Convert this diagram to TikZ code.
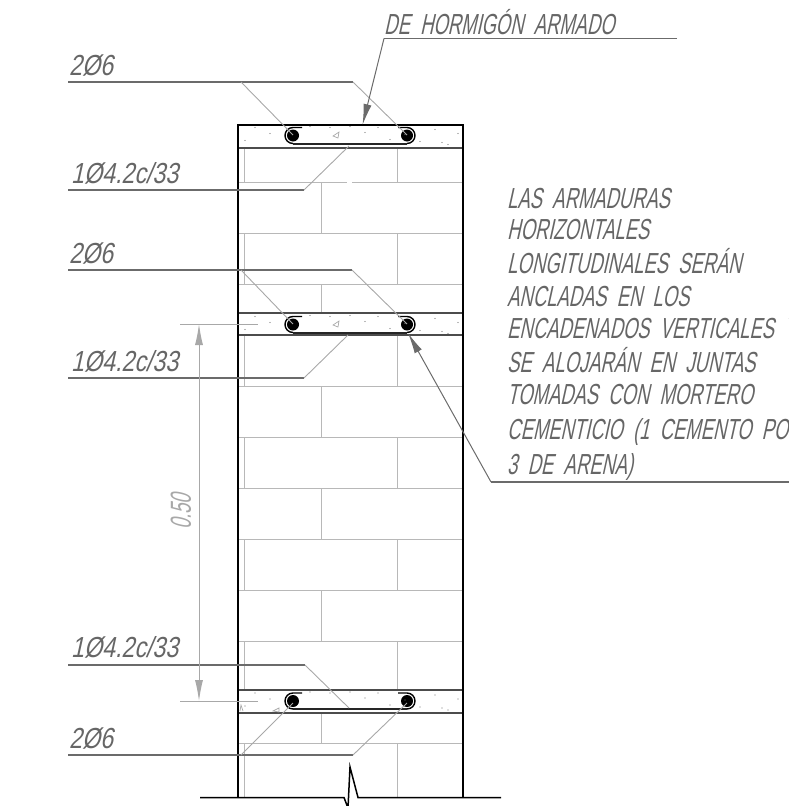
\documentclass[tikz,border=0pt]{standalone}
\usepackage{fontspec}
\usetikzlibrary{arrows.meta}
\newfontfamily\cad[FakeStretch=0.635,FakeSlant=0.22]{Liberation Sans}
\newfontfamily\cadtag[FakeStretch=0.8,FakeSlant=0.22]{Liberation Sans}
\definecolor{brick}{gray}{0.72}
\definecolor{lead}{gray}{0.42}
\definecolor{leadlight}{gray}{0.66}
\definecolor{txt}{gray}{0.40}
\tikzset{
  wall/.style={black,line width=1.5pt},
  brickline/.style={brick,line width=1pt},
  beamline/.style={black!70,line width=1.3pt},
  leader/.style={lead,line width=1.1pt},
  leaderthin/.style={leadlight,line width=.9pt},
  arrowed/.style={lead,line width=1pt,-{Latex[length=21pt,width=8pt]}},
  caption/.style={font=\cad\fontsize{29}{29}\selectfont,text=txt,anchor=base west,inner sep=0pt},
  smalltag/.style={font=\cadtag\fontsize{29}{29}\selectfont,text=txt,anchor=base west,inner sep=0pt},
  barpoint/.style={fill=black,draw=none},
  stir/.style={black,line width=1.4pt},
  stirbase/.style={black!85,line width=2pt},
  speck/.style={fill=black!55,draw=none},
  pics/bars/.style={code={
    \fill[barpoint] (-57,0) circle (6);
    \fill[barpoint] (57,0) circle (6);
    \draw[stir] (-48,-8) -- (-57,-8) arc[start angle=270,end angle=90,radius=8];
    \draw[stir] (57,8) arc[start angle=90,end angle=-90,radius=8] -- (48,-8);
    \draw[stirbase] (-57,8) -- (57,8);
    \foreach \a/\b in {-95/-8,-105/5,-80/-2,-20/-8,15/-3,28/-8,40/4,55/-1,70/6,85/-6,92/7,98/9,108/-2,-40/-9,0/-9} \fill[speck] (\a,\b) circle (.6);
  }},
  triangle mark/.style={leadlight,line width=.7pt}
}
\begin{document}
\begin{tikzpicture}[x=1pt,y=-1pt]
\useasboundingbox (0,0) rectangle (789,806);
\clip (0,0) rectangle (789,806);
% bricks
\foreach \x/\a/\b in {244/148/182,397/148/182,321/182/233,244/233/284,397/233/284,321/284/313,
  244/335/386,397/335/386,321/386/437,244/437/488,397/437/488,321/488/539,244/539/590,397/539/590,
  321/590/641,244/641/690,397/641/690,321/713/743,244/743/797,397/743/797}
  \draw[brickline] (\x,\a) -- (\x,\b);
\foreach \y in {182,233,284,386,437,488,539,590,641,743}
  \draw[brickline] (238,\y) -- (463,\y);
\fill[white] (347,180) rectangle (352,184);
% bond beams
\draw[beamline] (238,148) -- (463,148);
\draw[beamline] (238,313) -- (463,313) (238,335) -- (463,335);
\draw[beamline] (238,690) -- (463,690) (238,713) -- (463,713);
% wall
\draw[wall] (238,797) -- (238,125) -- (463,125) -- (463,797);
% bars
\coordinate (c1) at (350,135.5);
\coordinate (c2) at (350,324.5);
\coordinate (c3) at (350,701);
\path (c1) pic {bars};
\path (c2) pic {bars};
\path (c3) pic {bars};
\draw[triangle mark] (333,136) -- (339,132) -- (338,138) -- cycle;
\draw[triangle mark] (333,325) -- (339,321) -- (338,327) -- cycle;
\draw[triangle mark] (273,711) -- (279,708) -- (279,712) -- cycle;
\draw[triangle mark] (240,711) -- (241,705) -- (243,711);
% leaders
\coordinate (l1) at (293,135); \coordinate (r1) at (407,135);
\coordinate (l2) at (293,324); \coordinate (r2) at (407,324);
\coordinate (l3) at (293,703); \coordinate (r3) at (407,703);
\draw[leader] (68,82) -- (353,82);
\draw[leaderthin] (353,82) -- (r1) (241,82) -- (l1);
\draw[leader] (68,190) -- (304,190);
\draw[leaderthin] (304,190) -- (349,146);
\draw[leader] (68,270) -- (352,270);
\draw[leaderthin] (352,270) -- (r2) (241,270) -- (l2);
\draw[leader] (68,378) -- (304,378);
\draw[leaderthin] (304,378) -- (348,335);
\draw[leader] (68,665) -- (305,665);
\draw[leaderthin] (305,665) -- (349,708);
\draw[leader] (68,755) -- (353,755);
\draw[leaderthin] (353,755) -- (r3) (241,755) -- (l3);
% top label leader
\draw[leader] (677,38.5) -- (384,38.5);
\draw[arrowed] (384,38.5) -- (362.5,125);
% right leader
\draw[leader] (789,482) -- (491,482);
\draw[arrowed] (491,482) -- (408,333);
% dimension
\draw[leaderthin] (180,324) -- (258,324) (180,701) -- (258,701);
\draw[leadlight,line width=1pt,{Latex[length=21pt,width=8pt]}-{Latex[length=21pt,width=8pt]}] (199,324) -- (199,701);
\node[font=\cad\fontsize{29}{29}\selectfont,text=leadlight,rotate=90,inner sep=0pt] (dim) at (181,512) {0.50};
% ground
\draw[wall] (200,797.5) -- (344,797.5) -- (348,808) -- (350,767) -- (358,797.5) -- (501,797.5);
% labels
\node[smalltag] (t1) at (69,75) {2Ø6};
\node[smalltag] (t2) at (71,183) {1Ø4.2c/33};
\node[smalltag] (t3) at (69,263) {2Ø6};
\node[smalltag] (t4) at (71,371) {1Ø4.2c/33};
\node[smalltag] (t5) at (71,657) {1Ø4.2c/33};
\node[smalltag] (t6) at (69,748) {2Ø6};
\node[caption] (t7) at (384,34) {DE\ \ HORMIGÓN\ \ ARMADO};
\foreach \n/\y/\s in {a/208/LAS\ \ ARMADURAS,b/239/HORIZONTALES,c/273/LONGITUDINALES\ \ SERÁN,d/306/ANCLADAS\ \ EN\ \ LOS,e/338/ENCADENADOS\ \ VERTICALES\ \ Y,f/372/SE\ \ ALOJARÁN\ \ EN\ \ JUNTAS,g/404/TOMADAS\ \ CON\ \ MORTERO,h/439/CEMENTICIO\ \ (1\ \ CEMENTO\ \ PORTLAND,i/474/3\ \ DE\ \ ARENA)}
  \node[caption] (p\n) at (507,\y) {\s};
\end{tikzpicture}
\end{document}
